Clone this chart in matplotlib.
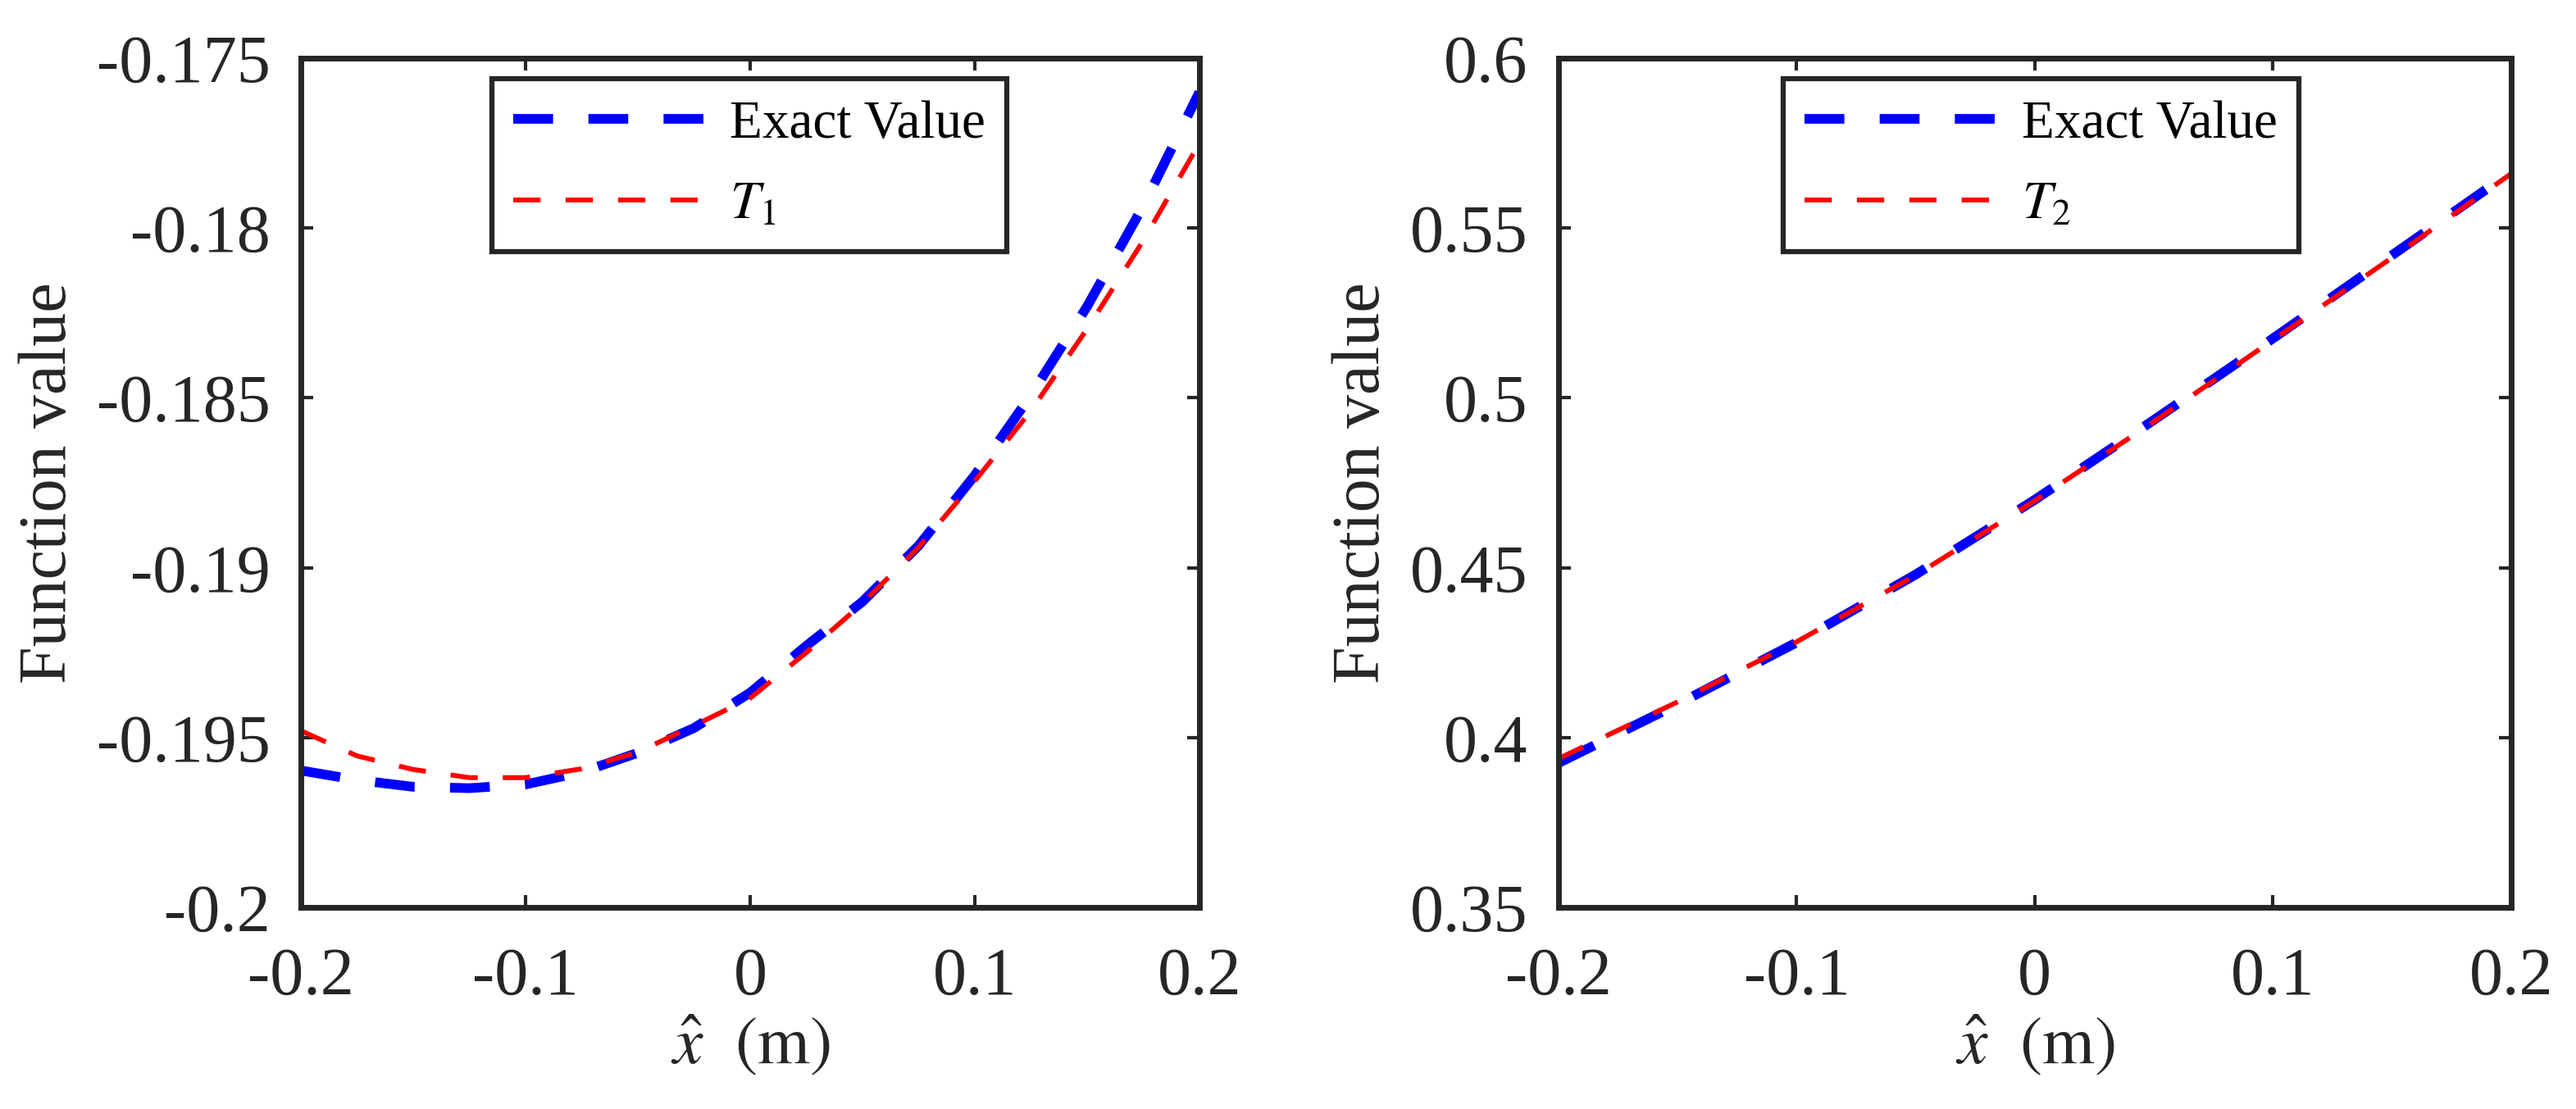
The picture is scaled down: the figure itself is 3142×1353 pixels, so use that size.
import matplotlib
matplotlib.use("Agg")
import matplotlib.pyplot as plt
from matplotlib.ticker import FuncFormatter

plt.rcParams['font.family'] = ['serif']
plt.rcParams['font.serif'] = ['Liberation Serif', 'DejaVu Serif']
plt.rcParams['mathtext.fontset'] = 'stix'
plt.rcParams['axes.unicode_minus'] = False
plt.rcParams['lines.scale_dashes'] = False

# data
x_left = [-0.2, -0.175, -0.15, -0.125, -0.1, -0.075, -0.05, -0.025, 0.0,
          0.025, 0.05, 0.075, 0.1, 0.125, 0.15, 0.175, 0.2]
exact_left = [-0.19597, -0.19625, -0.19645, -0.19649, -0.19638, -0.19602, -0.19545,
              -0.19472, -0.19368, -0.19230, -0.19100, -0.18935, -0.18728, -0.18492,
              -0.18231, -0.17935, -0.17600]
t1_left = [-0.19480, -0.19554, -0.19594, -0.19618, -0.19618, -0.19592, -0.19543,
           -0.19465, -0.19384, -0.19250, -0.19105, -0.18940, -0.18745, -0.18538,
           -0.18297, -0.18037, -0.17750]

x_right = [-0.2, -0.15, -0.1, -0.05, 0.0, 0.05, 0.1, 0.15, 0.2]
exact_right = [0.3925, 0.4098, 0.4280, 0.4480, 0.4700, 0.4935, 0.5175, 0.5420, 0.5665]
t2_right = [0.3938, 0.4105, 0.4282, 0.4478, 0.4697, 0.4930, 0.5170, 0.5413, 0.5660]

xticks = [-0.2, -0.1, 0, 0.1, 0.2]
yticks_left = [-0.2, -0.195, -0.19, -0.185, -0.18, -0.175]
yticks_right = [0.35, 0.4, 0.45, 0.5, 0.55, 0.6]

dark = '#262626'
fmt = FuncFormatter(lambda v, p: '%g' % round(v, 4) if abs(v) > 1e-9 else '0')


def setup(ax, yticks):
    ax.set_xlim(-0.2, 0.2)
    ax.set_ylim(yticks[0], yticks[-1])
    ax.set_xticks(xticks)
    ax.set_yticks(yticks)
    ax.xaxis.set_major_formatter(fmt)
    ax.yaxis.set_major_formatter(fmt)
    for s in ax.spines.values():
        s.set_linewidth(5)
        s.set_color(dark)
    ax.tick_params(direction='in', top=True, right=True, length=11, width=3,
                   color=dark, labelsize=59, labelcolor=dark)
    ax.tick_params(axis='x', pad=35)
    ax.tick_params(axis='y', pad=27)
    ax.set_xlabel(r'$\hat{x}\ \ (\mathrm{m})$', fontsize=59, color=dark, labelpad=4)
    ax.set_ylabel('Function value', fontsize=59, color=dark, labelpad=14)


fig = plt.figure(figsize=(31.42, 13.53), dpi=100)
ax1 = fig.add_axes([0.1168, 0.1818, 0.3488, 0.7657])
ax2 = fig.add_axes([0.6050, 0.1818, 0.3698, 0.7657])

for ax, xs, ex, tt, yt, lab, lx in [
        (ax1, x_left, exact_left, t1_left, yticks_left, r'$T_1$', 0.2126),
        (ax2, x_right, exact_right, t2_right, yticks_right, r'$T_2$', 0.236)]:
    ax.plot(xs, ex, color='#0000ff', lw=8.5, dashes=(35, 31), label='Exact Value')
    ax.plot(xs, tt, color='#ff0000', lw=4.3, dashes=(24, 22), label=lab)
    setup(ax, yt)
    leg = ax.legend(loc='upper left', bbox_to_anchor=(lx, 0.976), borderaxespad=0,
                    fontsize=47, fancybox=False, framealpha=1, handlelength=3.6,
                    handletextpad=0.45, borderpad=0.4, labelspacing=0.6)
    leg.get_frame().set_edgecolor(dark)
    leg.get_frame().set_linewidth(4.5)

fig.savefig('out.png', dpi=100, facecolor='white')
